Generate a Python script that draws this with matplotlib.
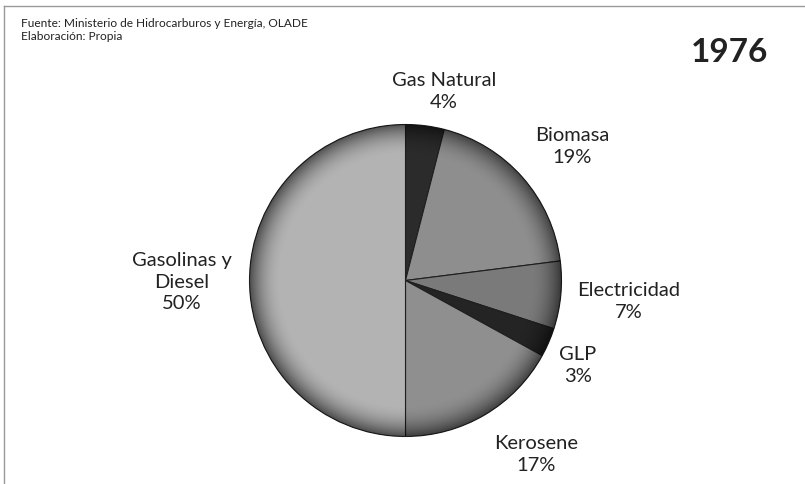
import numpy as np
import matplotlib.pyplot as plt
from matplotlib.patches import Circle

# data (clockwise from 12 o'clock)
sources = ["Gas Natural", "Biomasa", "Electricidad", "GLP", "Kerosene", "Gasolinas y\nDiesel"]
shares = [4, 19, 7, 3, 17, 50]
colors = ["#2b2b2b", "#8e8e8e", "#7a7a7a", "#242424", "#8f8f8f", "#b3b3b3"]

plt.rcParams['font.family'] = ['Lato', 'DejaVu Sans']

H = 484
fig = plt.figure(figsize=(8.05, 4.84), dpi=100)
ax = fig.add_axes([0, 0, 1, 1])

cx, cy, R = 405.5, H - 280.5, 156
ax.pie(shares, colors=colors, startangle=90, counterclock=False,
       center=(cx, cy), radius=R, frame=True,
       wedgeprops=dict(edgecolor="#1e1e1e", linewidth=0.8))
ax.set_xlim(0, 805)
ax.set_ylim(0, H)
ax.axis('off')

# rim shading to mimic the bevel look
yy, xx = np.mgrid[cy - R:cy + R:400j, cx - R:cx + R:400j]
rr = np.hypot(xx - cx, yy - cy) / R
shade = np.zeros((400, 400, 4))
shade[..., 3] = np.clip((rr - 0.8) / 0.2, 0, 1) ** 2 * 0.55
img = ax.imshow(shade, extent=(cx - R, cx + R, cy - R, cy + R), origin='lower', zorder=3)
img.set_clip_path(Circle((cx, cy), R, transform=ax.transData))

# labels (x, y in pixels from top-left)
label_pos = [(444, 91.5), (572, 146.5), (629, 301.5),
             (578, 365.5), (536, 454.5), (182, 282)]
for name, val, (px, py) in zip(sources, shares, label_pos):
    ax.text(px, H - py, f"{name}\n{val}%", ha='center', va='center', fontsize=14.5,
            color="#222222", linespacing=1.33, multialignment='center')

ax.text(21, H - 30, "Fuente: Ministerio de Hidrocarburos y Energía, OLADE\nElaboración: Propia",
        ha='left', va='center', fontsize=8.6, color="#222222", linespacing=1.3)
ax.text(730, H - 53, "1976", ha='center', va='center', fontsize=24,
        fontweight='bold', color="#222222")

# frame lines (left and top)
ax.plot([4, 4], [0, H - 6], color="#999999", lw=1)
ax.plot([4, 805], [H - 6, H - 6], color="#999999", lw=1)

fig.savefig("out.png", dpi=100)
